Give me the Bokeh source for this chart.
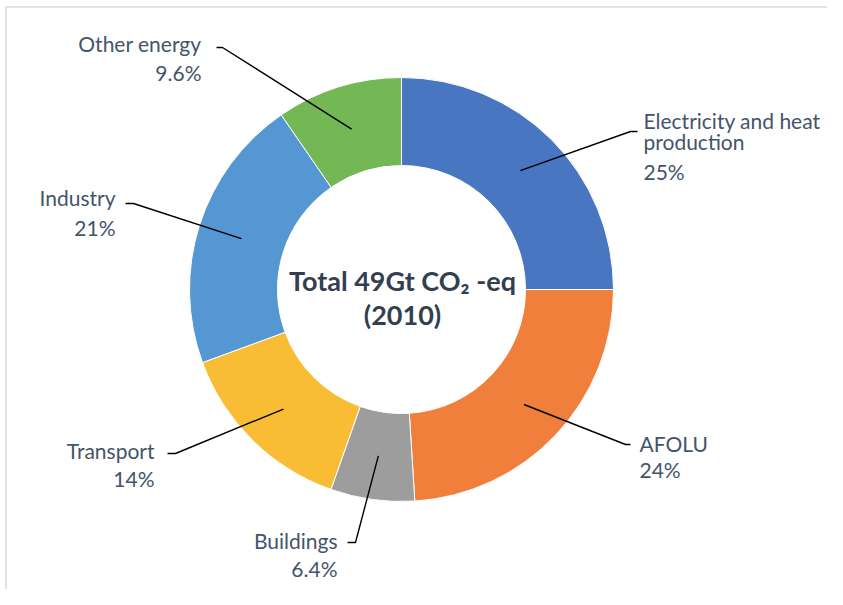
import math
from bokeh.plotting import figure
from bokeh.models import Range1d
from bokeh.core.properties import value
from bokeh.embed import file_html
from bokeh.resources import INLINE

# ---- data ----
categories = ["Electricity and heat production", "AFOLU", "Buildings",
              "Transport", "Industry", "Other energy"]
shares = [25, 24, 6.4, 14, 21, 9.6]
pct_labels = ["25%", "24%", "6.4%", "14%", "21%", "9.6%"]
name_lines = [["Electricity and heat", "production"], ["AFOLU"], ["Buildings"],
              ["Transport"], ["Industry"], ["Other energy"]]
colors = ["#4876C1", "#F07F3B", "#9D9D9D", "#F8BD35", "#5597D3", "#74B755"]
title_lines = ["Total 49Gt CO\u2082 -eq", "(2010)"]

# ---- layout (screen pixel style positions) ----
W, H = 827, 589
CX, CY = 401, 289          # donut centre (image px)
R_OUT, R_IN = 212, 124
R_LEAD = (R_OUT + R_IN) / 2
# label anchor: x, first-line y, align, pct y, leader elbow (x, y), leader end x
label_layout = [
    (643, 120, "left", 171, (637, 131), 630),
    (639, 443, "left", 469, (630, 444), 625),
    (337, 540, "right", 568, (347, 542), 355),
    (154, 450, "right", 478, (167, 453), 175),
    (115, 197, "right", 227, (125, 203), 133),
    (201, 43, "right", 72, (216, 47), 222),
]
LABEL_COLOR = "#44546A"
TITLE_COLOR = "#333F50"
FONT = "Lato"


def px(x):
    return x


def py(y):
    return H - y


p = figure(width=W, height=H, output_backend="svg", toolbar_location=None,
           x_range=Range1d(0, W), y_range=Range1d(0, H),
           min_border=0, outline_line_color=None)
p.axis.visible = False
p.grid.visible = False
p.background_fill_color = "white"

# frame (top + left edges)
p.segment(x0=[px(5.5), px(5.5)], y0=[py(6.5), py(6.5)],
          x1=[px(W), px(5.5)], y1=[py(6.5), py(H)],
          line_color="#D9D9D9", line_width=1.5)

total = sum(shares)
starts, ends, mids = [], [], []
cum = 0.0
for s in shares:
    a0 = math.pi / 2 - 2 * math.pi * (cum + s) / total
    a1 = math.pi / 2 - 2 * math.pi * cum / total
    starts.append(a0)
    ends.append(a1)
    mids.append((a0 + a1) / 2)
    cum += s

p.annular_wedge(x=[px(CX)] * len(shares), y=[py(CY)] * len(shares),
                inner_radius=R_IN, outer_radius=R_OUT,
                start_angle=starts, end_angle=ends,
                fill_color=colors, line_color="white", line_width=1)

# leader lines
xs, ys = [], []
for (lx, ly, al, pyy, (ex, ey), hx), m in zip(label_layout, mids):
    ix = px(CX) + R_LEAD * math.cos(m)
    iy = py(CY) + R_LEAD * math.sin(m)
    xs.append([px(ex), px(hx), ix])
    ys.append([py(ey), py(ey), iy])
p.multi_line(xs=xs, ys=ys, line_color="black", line_width=1.4)

# labels
for lines, pct, (lx, ly, al, pyy, _e, _h) in zip(name_lines, pct_labels, label_layout):
    n = len(lines)
    tx = [px(lx)] * (n + 1)
    ty = [py(ly + 21 * i) for i in range(n)] + [py(pyy)]
    p.text(x=tx, y=ty, text=lines + [pct], text_align=al,
           text_baseline="middle", text_font=value(FONT),
           text_font_size="21px", text_color=LABEL_COLOR)

# centre title
p.text(x=[px(CX + 1)] * 2, y=[py(280), py(314)], text=title_lines,
       text_align="center", text_baseline="middle", text_font=value(FONT),
       text_font_size="27px", text_font_style="bold", text_color=TITLE_COLOR)

open("out.html", "w").write(file_html(p, INLINE))
